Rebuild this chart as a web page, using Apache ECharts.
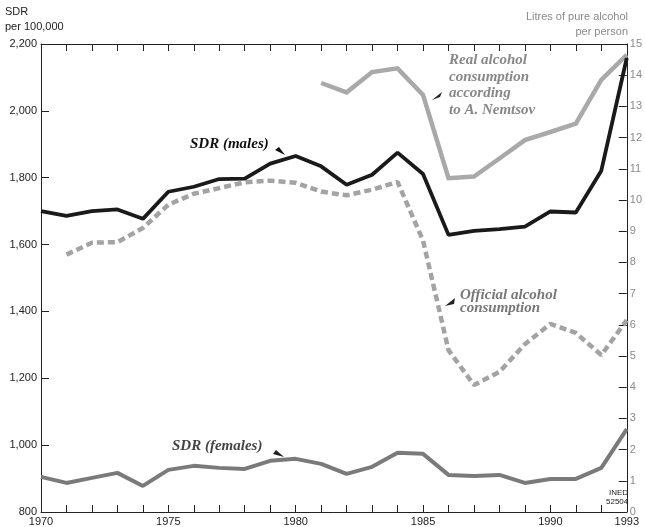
<!DOCTYPE html>
<html><head><meta charset="utf-8">
<script src="https://cdn.jsdelivr.net/npm/echarts@6/dist/echarts.min.js"></script>
<style>html,body{margin:0;padding:0;background:#fff}#c{width:645px;height:527px}</style>
</head><body><div id="c"></div>
<script>
const years = [1970,1971,1972,1973,1974,1975,1976,1977,1978,1979,1980,1981,1982,1983,1984,1985,1986,1987,1988,1989,1990,1991,1992,1993];
const sdrMales = [1700,1686,1700,1705,1677,1758,1773,1796,1797,1842,1865,1834,1779,1809,1875,1811,1629,1641,1646,1654,1699,1696,1821,2158];
const sdrFemales = [905,887,902,917,878,926,938,932,929,953,959,944,914,935,977,974,911,908,911,887,899,899,932,1048];
const officialAlcohol = [null,8.25,8.63,8.65,9.1,9.85,10.2,10.38,10.57,10.62,10.55,10.27,10.15,10.33,10.58,8.7,5.19,4.07,4.49,5.38,6.03,5.74,5.03,6.15];
const realAlcohol = [null,null,null,null,null,null,null,null,null,null,null,13.75,13.45,14.1,14.22,13.37,10.7,10.75,11.33,11.92,12.18,12.45,13.85,14.65];
const leftTicks = [800,1000,1200,1400,1600,1800,2000,2200];
const rightTicks = [0,1,2,3,4,5,6,7,8,9,10,11,12,13,14,15];

const pair = (arr) => years.map((y,i) => [y, arr[i]]);
const chart = echarts.init(document.getElementById('c'));
const serif = '"Liberation Serif", "DejaVu Serif", serif';
const sans = '"Liberation Sans", Arial, sans-serif';

chart.setOption({
  animation: false,
  grid: { left: 41, right: 15, top: 44, bottom: 15 },
  xAxis: [{
    type: 'value', min: 1970, max: 1993, interval: 1, position: 'bottom',
    axisLine: { lineStyle: { color: '#222', width: 1 } },
    axisTick: { inside: true, length: 7, lineStyle: { color: '#222' } },
    axisLabel: { color: '#222', fontFamily: sans, fontSize: 11, margin: 4,
      formatter: v => (v % 5 === 0 || v === 1993) ? String(v) : '' ,
      showMinLabel: true, showMaxLabel: true },
    splitLine: { show: false }
  }, {
    type: 'value', min: 1970, max: 1993, interval: 1, position: 'top',
    axisLine: { show: true, lineStyle: { color: '#222', width: 1 } },
    axisTick: { inside: true, length: 7, lineStyle: { color: '#222' } },
    axisLabel: { show: false }, splitLine: { show: false }
  }],
  yAxis: [{
    type: 'value', min: leftTicks[0], max: leftTicks[leftTicks.length-1], interval: 200, position: 'left',
    axisLine: { show: true, lineStyle: { color: '#222', width: 1 } },
    axisTick: { show: true, inside: true, length: 8, lineStyle: { color: '#222' } },
    axisLabel: { color: '#222', fontFamily: sans, fontSize: 11, margin: 4,
      formatter: v => v.toLocaleString('en-US') },
    splitLine: { show: false }
  }, {
    type: 'value', min: rightTicks[0], max: rightTicks[rightTicks.length-1], interval: 1, position: 'right',
    axisLine: { show: true, lineStyle: { color: '#222', width: 1 } },
    axisTick: { show: true, inside: true, length: 8, lineStyle: { color: '#222' } },
    axisLabel: { color: '#8a8a8a', fontFamily: sans, fontSize: 11, margin: 3 },
    splitLine: { show: false }
  }],
  series: [
    { type: 'line', name: 'Real alcohol', yAxisIndex: 1, data: pair(realAlcohol), symbol: 'none',
      lineStyle: { color: '#a9a9a9', width: 4.5, join: 'miter' }, z: 2 },
    { type: 'line', name: 'Official alcohol', yAxisIndex: 1, data: pair(officialAlcohol), symbol: 'none',
      lineStyle: { color: '#a3a3a3', width: 4.5, type: [7, 4] }, z: 2 },
    { type: 'line', name: 'SDR males', yAxisIndex: 0, data: pair(sdrMales), symbol: 'none',
      lineStyle: { color: '#1a1a1a', width: 3.8 }, z: 3 },
    { type: 'line', name: 'SDR females', yAxisIndex: 0, data: pair(sdrFemales), symbol: 'none',
      lineStyle: { color: '#7a7a7a', width: 4 }, z: 3 }
  ],
  graphic: [
    { type: 'text', left: 5, top: 6, style: { text: 'SDR', font: '11px ' + sans, fill: '#222' } },
    { type: 'text', left: 5, top: 21, style: { text: 'per 100,000', font: '11px ' + sans, fill: '#222' } },
    { type: 'text', right: 17, top: 11, style: { text: 'Litres of pure alcohol', font: '11px ' + sans, fill: '#8a8a8a' } },
    { type: 'text', right: 17, top: 26, style: { text: 'per person', font: '11px ' + sans, fill: '#8a8a8a' } },

    { type: 'text', x: 190, y: 152, style: { text: 'SDR (males)', font: 'italic bold 15px ' + serif, fill: '#111', textVerticalAlign: 'bottom' } },
    { type: 'polygon', shape: { points: [[285,155],[275,150],[279,147]] }, style: { fill: '#111' } },

    { type: 'text', x: 172, y: 454, style: { text: 'SDR (females)', font: 'italic bold 15px ' + serif, fill: '#444', textVerticalAlign: 'bottom' } },
    { type: 'polygon', shape: { points: [[284,457],[273,454],[276,450]] }, style: { fill: '#222' } },

    { type: 'text', x: 449, y: 52, style: { text: 'Real alcohol\nconsumption\naccording\nto A. Nemtsov', font: 'italic bold 15px ' + serif, fill: '#888', lineHeight: 16.5 } },
    { type: 'polygon', shape: { points: [[432,100],[442,92],[440,97]] }, style: { fill: '#222' } },

    { type: 'text', x: 460, y: 289, style: { text: 'Official alcohol\nconsumption', font: 'italic bold 15px ' + serif, fill: '#777', lineHeight: 13 } },
    { type: 'polygon', shape: { points: [[445,306],[455,298],[454,304]] }, style: { fill: '#222' } },

    { type: 'text', x: 609, y: 489, style: { text: 'INED', font: '8px ' + sans, fill: '#222' } },
    { type: 'text', x: 606, y: 498, style: { text: '52504', font: '8px ' + sans, fill: '#222' } }
  ]
});
</script></body></html>
